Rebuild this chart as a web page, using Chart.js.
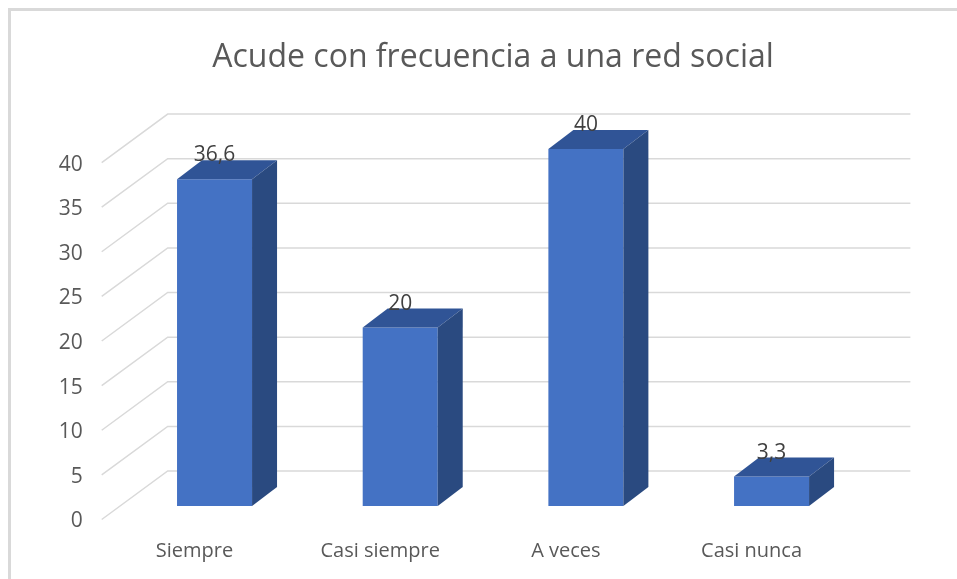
<!DOCTYPE html>
<html>
<head>
<meta charset="utf-8">
<script src="https://cdn.jsdelivr.net/npm/chart.js@4.4.1/dist/chart.umd.min.js"></script>
<style>
  html, body { margin: 0; padding: 0; background: #fff; }
  #wrap { position: relative; width: 957px; height: 579px; overflow: hidden; }
  #frame { position: absolute; left: 8px; top: 8px; width: 2000px; height: 2000px;
           border-top: 3px solid #d9d9d9; border-left: 3px solid #d9d9d9; }
  canvas { position: absolute; left: 0; top: 0; }
</style>
</head>
<body>
<div id="wrap">
  <div id="frame"></div>
  <canvas id="chart"></canvas>
</div>
<script>
// Data
const categories = ['Siempre', 'Casi siempre', 'A veces', 'Casi nunca'];
const values = [36.6, 20, 40, 3.3];
const yTicks = [0, 5, 10, 15, 20, 25, 30, 35, 40];
const chartTitle = 'Acude con frecuencia a una red social';

const textColor = '#595959';
const fontFamily = '"Open Sans", "Noto Sans", sans-serif';

// 3D offsets (pixels)
const barDepth = { dx: 25, dy: -19 };    // top / side faces of the bars
const wallOffset = { dx: 46, dy: -35 };  // back wall gridlines
const floorFront = { dx: -20, dy: 13.5 }; // front edge of the floor

// Formats 36.6 -> "36,6"
const fmt = v => String(v).replace('.', ',');

const threeD = {
    id: 'threeD',
    beforeDatasetsDraw(chart) {
        const { ctx, chartArea, scales } = chart;
        const y = scales.y, x = scales.x;
        ctx.save();
        ctx.strokeStyle = '#d9d9d9';
        ctx.lineWidth = 1.5;
        yTicks.forEach(v => {
            const py = y.getPixelForValue(v);
            const by = py + wallOffset.dy;
            ctx.beginPath();
            ctx.moveTo(chartArea.left + floorFront.dx, py + floorFront.dy);
            ctx.lineTo(chartArea.left + wallOffset.dx, by);
            ctx.lineTo(chartArea.right + wallOffset.dx, by);
            ctx.stroke();
        });
        // tick labels
        ctx.fillStyle = textColor;
        ctx.font = '21px ' + fontFamily;
        ctx.textAlign = 'right';
        ctx.textBaseline = 'middle';
        yTicks.forEach(v => {
            const py = y.getPixelForValue(v);
            ctx.fillText(String(v), chartArea.left - 39, py + floorFront.dy + 2);
        });
        // category labels
        ctx.font = '20px ' + fontFamily;
        ctx.textAlign = 'center';
        categories.forEach((c, i) => {
            ctx.fillText(c, x.getPixelForValue(i) - 20, 551);
        });
        ctx.restore();
    },
    afterDatasetsDraw(chart) {
        const { ctx } = chart;
        const meta = chart.getDatasetMeta(0);
        ctx.save();
        meta.data.forEach((bar, i) => {
            const x1 = bar.x - bar.width / 2;
            const x2 = bar.x + bar.width / 2;
            const top = bar.y, base = bar.base;
            // top face
            ctx.fillStyle = '#305496';
            ctx.beginPath();
            ctx.moveTo(x1, top);
            ctx.lineTo(x2, top);
            ctx.lineTo(x2 + barDepth.dx, top + barDepth.dy);
            ctx.lineTo(x1 + barDepth.dx, top + barDepth.dy);
            ctx.closePath();
            ctx.fill();
            // side face
            ctx.fillStyle = '#2A4A80';
            ctx.beginPath();
            ctx.moveTo(x2, top);
            ctx.lineTo(x2 + barDepth.dx, top + barDepth.dy);
            ctx.lineTo(x2 + barDepth.dx, base + barDepth.dy);
            ctx.lineTo(x2, base);
            ctx.closePath();
            ctx.fill();
            // value label
            ctx.fillStyle = '#404040';
            ctx.font = '21px ' + fontFamily;
            ctx.textAlign = 'center';
            ctx.textBaseline = 'alphabetic';
            ctx.fillText(fmt(values[i]), bar.x, top + barDepth.dy + 1);
        });
        ctx.restore();
    }
};

new Chart(document.getElementById('chart'), {
    type: 'bar',
    data: {
        labels: categories,
        datasets: [{
            data: values,
            backgroundColor: '#4472C4',
            borderWidth: 0,
            categoryPercentage: 1,
            barPercentage: 0.404
        }]
    },
    options: {
        responsive: true,
        maintainAspectRatio: false,
        animation: false,
        layout: {
            padding: { top: 0, left: 121.7, right: 92.6, bottom: 73 }
        },
        scales: {
            x: { display: false },
            y: { display: false, min: 0, max: 45 }
        },
        plugins: {
            legend: { display: false },
            tooltip: { enabled: false },
            title: {
                display: true,
                text: chartTitle,
                color: textColor,
                font: { family: fontFamily, size: 32, weight: 'normal', lineHeight: 1.2 },
                padding: { top: 39, bottom: 27 }
            }
        }
    },
    plugins: [threeD]
});
</script>
</body>
</html>
